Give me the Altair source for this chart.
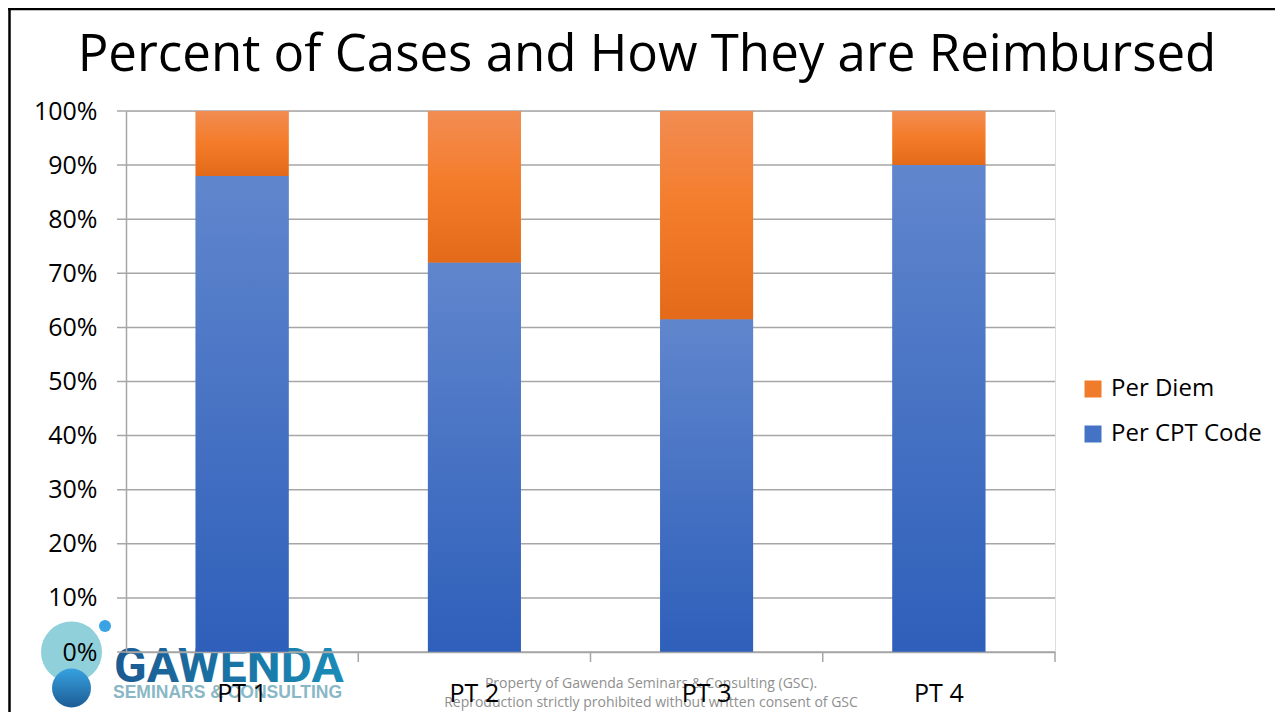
import altair as alt
import pandas as pd

# ---- data ----
categories = ["PT 1", "PT 2", "PT 3", "PT 4"]
per_cpt_code = [88, 72, 61.5, 90]
per_diem = [12, 28, 38.5, 10]
series_names = ["Per Diem", "Per CPT Code"]
y_ticks = [0, 10, 20, 30, 40, 50, 60, 70, 80, 90, 100]

title_text = "Percent of Cases and How They are Reimbursed"
footer_1 = "Property of Gawenda Seminars & Consulting (GSC)."
footer_2 = "Reproduction strictly prohibited without written consent of GSC"
logo_main = "GAWENDA"
logo_sub = "SEMINARS & CONSULTING"

FONT = "Open Sans"
ORANGE = "#ef7b2b"
BLUE = "#4472c4"
GRID = "#a6a6a6"

W, H = 929, 541
PAD_INNER = 0.6
STEP = W / len(categories)

wide = pd.DataFrame({"cat": categories, "cpt": per_cpt_code, "diem": per_diem})
long_rows = []
for c, a, b in zip(categories, per_cpt_code, per_diem):
    long_rows.append({"cat": c, "series": "Per CPT Code", "lo": 0, "hi": a})
    long_rows.append({"cat": c, "series": "Per Diem", "lo": a, "hi": a + b})
long = pd.DataFrame(long_rows)
ticks_df = pd.DataFrame({"v": y_ticks})
one = pd.DataFrame({"a": [0]})

x_scale = alt.Scale(paddingInner=PAD_INNER, paddingOuter=PAD_INNER / 2)
x_axis = alt.Axis(
    title=None, labelAngle=0, labelFont=FONT, labelFontSize=25, labelColor="#000000",
    domainColor=GRID, domainWidth=1.5, ticks=False, labelPadding=29,
    grid=False, zindex=1,
)
x_enc = alt.X("cat:N", sort=categories, scale=x_scale, axis=x_axis)
y_scale = alt.Scale(domain=[0, 100], nice=False)
y_axis = alt.Axis(
    title=None, values=y_ticks, labelExpr="datum.value + '%'", labelFont=FONT,
    labelFontSize=25, labelColor="#000000", domainColor=GRID, domainWidth=1.5,
    ticks=False, labelPadding=29, grid=False, zindex=1,
)

blue_grad = alt.LinearGradient(
    gradient="linear", x1=0, x2=0, y1=0, y2=1,
    stops=[alt.GradientStop(color="#6086cd", offset=0),
           alt.GradientStop(color="#2e5fba", offset=1)],
)
orange_grad = alt.LinearGradient(
    gradient="linear", x1=0, x2=0, y1=0, y2=1,
    stops=[alt.GradientStop(color="#f28c52", offset=0),
           alt.GradientStop(color="#f47d2c", offset=0.45),
           alt.GradientStop(color="#e36a18", offset=1)],
)
dark_circle_grad = alt.LinearGradient(
    gradient="linear", x1=0, x2=0, y1=0, y2=1,
    stops=[alt.GradientStop(color="#36a2e0", offset=0),
           alt.GradientStop(color="#1d5c95", offset=1)],
)
logo_text_grad = alt.LinearGradient(
    gradient="linear", x1=0, x2=1, y1=0, y2=0,
    stops=[alt.GradientStop(color="#1b5a92", offset=0),
           alt.GradientStop(color="#1a8cb7", offset=1)],
)

# ---- logo (behind the chart) ----
big_circle = alt.Chart(one).mark_circle(color="#8fd0da", opacity=1, size=3721).encode(
    x=alt.value(-54.5), y=alt.value(541))
dark_circle = alt.Chart(one).mark_circle(fill=dark_circle_grad, opacity=1, size=1521).encode(
    x=alt.value(-54.5), y=alt.value(577))
dot = alt.Chart(one).mark_circle(color="#3aa3e3", opacity=1, size=144).encode(
    x=alt.value(-21), y=alt.value(515))
logo_t1 = alt.Chart(one).mark_text(
    text=logo_main, font="Roboto", fontWeight="bold", fontSize=48,
    align="left", baseline="alphabetic", fill=logo_text_grad,
).encode(x=alt.value(-12), y=alt.value(571))
logo_t2 = alt.Chart(one).mark_text(
    text=logo_sub, font="Liberation Sans", fontWeight="bold", fontSize=17.5,
    align="left", baseline="alphabetic", color="#8ab7c6",
).encode(x=alt.value(-13), y=alt.value(587))
foot1 = alt.Chart(one).mark_text(
    text=footer_1, font=FONT, fontSize=14, align="center", baseline="alphabetic",
    color="#8f8f8f",
).encode(x=alt.value(525), y=alt.value(577))
foot2 = alt.Chart(one).mark_text(
    text=footer_2, font=FONT, fontSize=14, align="center", baseline="alphabetic",
    color="#8f8f8f",
).encode(x=alt.value(525), y=alt.value(596))

# ---- gridlines ----
grid = alt.Chart(ticks_df).mark_rule(color=GRID, strokeWidth=1.5).encode(
    y=alt.Y("v:Q", scale=y_scale, axis=y_axis),
    x=alt.value(-9), x2=alt.value(W),
)

# ---- category boundary ticks on the x axis ----
x_ticks = alt.Chart(wide).mark_rule(
    color=GRID, strokeWidth=1.5, xOffset=STEP * PAD_INNER / 2,
).encode(
    x=alt.X("cat:N", sort=categories, scale=x_scale, bandPosition=1, axis=x_axis),
    y=alt.value(H), y2=alt.value(H + 10),
)

# ---- legend carrier bars ----
legend_bars = alt.Chart(long).mark_bar().encode(
    x=x_enc,
    y=alt.Y("lo:Q", scale=y_scale, axis=y_axis),
    y2="hi:Q",
    color=alt.Color(
        "series:N",
        scale=alt.Scale(domain=series_names, range=[ORANGE, BLUE]),
        legend=alt.Legend(
            title=None, orient="none", legendX=955, legendY=266, symbolType="square",
            symbolSize=289, symbolStrokeWidth=0, labelFont=FONT, labelFontSize=24,
            labelColor="#000000", rowPadding=21, labelOffset=6, padding=0,
        ),
    ),
)

blue_bars = alt.Chart(wide).mark_bar(fill=blue_grad, strokeWidth=0).encode(
    x=x_enc,
    y=alt.Y("cpt:Q", scale=y_scale, axis=y_axis),
    y2=alt.datum(0),
)
orange_bars = alt.Chart(wide).transform_calculate(top="datum.cpt + datum.diem").mark_bar(
    fill=orange_grad, strokeWidth=0).encode(
    x=x_enc,
    y=alt.Y("cpt:Q", scale=y_scale, axis=y_axis),
    y2="top:Q",
)

# ---- title and slide border ----
title = alt.Chart(one).mark_text(
    text=title_text, font=FONT, fontSize=51, align="center", baseline="alphabetic",
    color="#000000",
).encode(x=alt.value(521), y=alt.value(-40))
border_top = alt.Chart(one).mark_rule(color="#000000", strokeWidth=2.5).encode(
    x=alt.value(-118), x2=alt.value(1149), y=alt.value(-102))
border_left = alt.Chart(one).mark_rule(color="#000000", strokeWidth=2.5).encode(
    x=alt.value(-116.5), y=alt.value(-103), y2=alt.value(620))

chart = alt.layer(
    big_circle, dark_circle, dot, logo_t1, logo_t2, foot1, foot2,
    grid, x_ticks, legend_bars, blue_bars, orange_bars,
    title, border_top, border_left,
).properties(
    width=W, height=H,
    autosize=alt.AutoSizeParams(type="none"),
    padding={"left": 118, "top": 103, "right": 220, "bottom": 60},
).configure_view(stroke=None).configure(background="#ffffff")

chart.save("out.html", embed_options={"renderer": "svg", "actions": False})
